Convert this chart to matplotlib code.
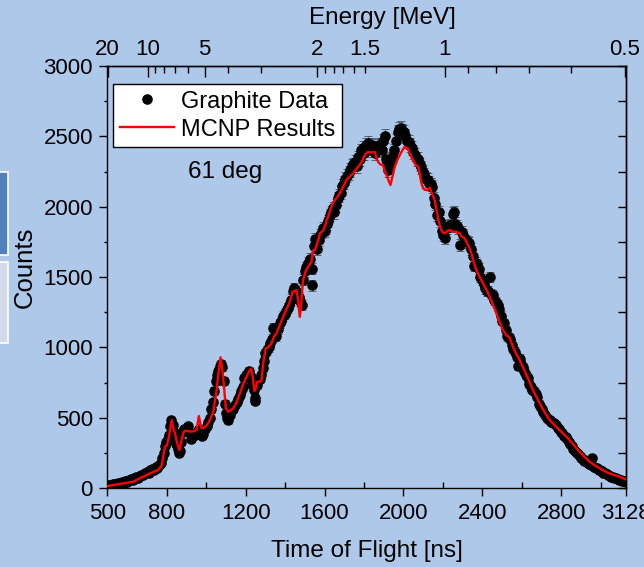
import numpy as np
import matplotlib.pyplot as plt
from matplotlib.patches import Rectangle

plt.rcParams.update({
    "font.family": ["Liberation Sans", "DejaVu Sans"],
    "font.size": 16,
    "axes.linewidth": 1.0,
})

BG = "#aec8ea"

# ---------- measured time-of-flight spectrum (graphite, 61 deg) ----------
tof_data = [
    500, 508, 518, 526, 536, 545, 554, 563, 572, 582, 591, 600, 609, 618, 627, 636,
    645, 654, 663, 672, 681, 690, 699, 708, 717, 726, 735, 744, 753, 762, 771, 778,
    784, 790, 798, 806, 812, 818, 824, 830, 836, 842, 848, 855, 862, 868, 875, 882,
    890, 898, 906, 914, 922, 930, 938, 946, 954, 962, 970, 978, 986, 994, 1002, 1010,
    1018, 1026, 1034, 1041, 1048, 1055, 1062, 1068, 1075, 1082, 1088, 1094, 1100, 1106,
    1112, 1120, 1128, 1136, 1145, 1154, 1162, 1170, 1178, 1186, 1194, 1202, 1210, 1218,
    1226, 1234, 1240, 1246, 1250, 1256, 1264, 1272, 1280, 1288, 1294, 1300, 1308, 1316,
    1324, 1332, 1340, 1348, 1356, 1364, 1372, 1380, 1390, 1398, 1406, 1414, 1422, 1430,
    1438, 1446, 1454, 1462, 1470, 1478, 1485, 1492, 1500, 1508, 1516, 1525, 1534, 1538,
    1546, 1554, 1562, 1570, 1578, 1586, 1594, 1602, 1610, 1618, 1626, 1634, 1642, 1650,
    1658, 1666, 1674, 1682, 1690, 1698, 1706, 1714, 1722, 1730, 1738, 1746, 1754, 1762,
    1770, 1778, 1786, 1794, 1802, 1810, 1818, 1826, 1834, 1842, 1850, 1858, 1866, 1874,
    1882, 1890, 1898, 1906, 1912, 1918, 1924, 1930, 1938, 1946, 1954, 1962, 1970, 1978,
    1986, 1994, 2002, 2010, 2018, 2026, 2034, 2042, 2050, 2058, 2066, 2074, 2082, 2090,
    2098, 2106, 2114, 2122, 2130, 2138, 2146, 2154, 2162, 2170, 2178, 2186, 2194, 2202,
    2210, 2218, 2226, 2234, 2242, 2250, 2256, 2262, 2270, 2278, 2286, 2294, 2302, 2310,
    2318, 2326, 2334, 2342, 2350, 2358, 2366, 2374, 2382, 2390, 2398, 2406, 2414, 2422,
    2430, 2437, 2445, 2453, 2461, 2469, 2477, 2485, 2493, 2501, 2509, 2517, 2525, 2533,
    2541, 2549, 2557, 2565, 2573, 2581, 2589, 2597, 2605, 2613, 2621, 2629, 2637, 2645,
    2653, 2661, 2669, 2677, 2685, 2693, 2701, 2709, 2717, 2725, 2733, 2741, 2749, 2757,
    2765, 2773, 2781, 2789, 2797, 2805, 2813, 2821, 2829, 2837, 2845, 2853, 2861, 2869,
    2877, 2885, 2893, 2901, 2909, 2917, 2925, 2933, 2941, 2949, 2957, 2965, 2973, 2981,
    2989, 2997, 3005, 3013, 3021, 3029, 3037, 3045, 3053, 3061, 3069, 3077, 3085, 3093,
    3101, 3109, 3117, 3125,
]
counts_data = [
    18, 22, 15, 28, 30, 25, 35, 32, 40, 38, 48, 45, 55, 62, 58, 70,
    75, 68, 85, 95, 90, 105, 115, 110, 125, 135, 128, 150, 145, 165, 180, 215,
    250, 300, 330, 345, 380, 440, 480, 450, 400, 350, 310, 280, 250, 265, 330, 400,
    420, 405, 440, 400, 345, 360, 375, 380, 400, 420, 395, 370, 385, 420, 440, 470,
    500, 560, 610, 690, 760, 800, 830, 870, 880, 860, 760, 600, 530, 500,
    480, 520, 550, 560, 590, 610, 630, 660, 690, 720, 780, 800, 815, 830,
    790, 740, 700, 620, 640, 730, 770, 775, 800, 850, 900, 960, 980, 1000,
    1030, 1060, 1140, 1090, 1080, 1130, 1170, 1190, 1220, 1240, 1260, 1280, 1300, 1340,
    1400, 1420, 1400, 1380, 1360, 1330, 1300, 1480, 1540, 1570, 1600, 1630, 1440, 1560,
    1720, 1770, 1700, 1760, 1800, 1820, 1850, 1830, 1880, 1900, 1940, 1960, 1990, 1960,
    2010, 2060, 2080, 2100, 2150, 2170, 2200, 2220, 2240, 2260, 2290, 2300, 2320, 2290,
    2350, 2340, 2400, 2420, 2380, 2440, 2450, 2430, 2400, 2440, 2420, 2380, 2430, 2410,
    2440, 2400, 2470, 2500, 2340, 2300, 2260, 2300, 2330, 2360, 2400, 2470, 2530, 2550,
    2560, 2540, 2530, 2500, 2470, 2460, 2440, 2420, 2390, 2370, 2340, 2340, 2300, 2280,
    2250, 2230, 2200, 2190, 2170, 2160, 2140, 2060, 2020, 1940, 1960, 1900, 1830, 1800,
    1780, 1850, 1860, 1870, 1860, 1950, 1960, 1880, 1860, 1850, 1730, 1820, 1800, 1760,
    1760, 1750, 1740, 1700, 1650, 1580, 1600, 1590, 1560, 1500, 1480, 1450, 1420, 1400,
    1400, 1500, 1380, 1370, 1340, 1320, 1300, 1270, 1220, 1190, 1170, 1120, 1080, 1070,
    1060, 1020, 990, 970, 930, 870, 920, 880, 860, 830, 800, 780, 740, 720,
    700, 690, 670, 650, 600, 580, 560, 540, 520, 500, 490, 480, 470, 465,
    460, 450, 430, 420, 400, 390, 370, 360, 350, 330, 310, 300, 280, 265,
    250, 240, 225, 215, 205, 195, 190, 180, 170, 165, 210, 150, 145, 140,
    130, 125, 120, 110, 105, 100, 90, 85, 80, 75, 72, 68, 62, 60,
    55, 50, 48, 45,
]

# ---------- MCNP simulation ----------
tof_mcnp = [
    500, 560, 631, 680, 715, 757, 775, 783, 791, 800, 808, 816, 825, 833, 842, 853,
    864, 874, 884, 892, 910, 926, 940, 952, 963, 970, 977, 990, 999, 1010, 1019, 1036,
    1045, 1053, 1063, 1073, 1080, 1086, 1093, 1100, 1112, 1125, 1137, 1155, 1171, 1188,
    1205, 1218, 1228, 1237, 1245, 1250, 1258, 1272, 1281, 1289, 1302, 1314, 1331, 1345,
    1357, 1374, 1390, 1405, 1421, 1438, 1450, 1458, 1466, 1471, 1475, 1479, 1483, 1491,
    1504, 1517, 1534, 1542, 1551, 1568, 1576, 1593, 1601, 1610, 1618, 1630, 1643, 1660,
    1677, 1694, 1711, 1728, 1745, 1762, 1778, 1792, 1804, 1820, 1838, 1854, 1863, 1871,
    1883, 1896, 1906, 1917, 1926, 1934, 1945, 1956, 1968, 1981, 1994, 2006, 2015, 2023,
    2035, 2048, 2060, 2074, 2082, 2090, 2099, 2108, 2116, 2125, 2133, 2145, 2158, 2167,
    2175, 2183, 2192, 2200, 2209, 2221, 2234, 2251, 2268, 2285, 2293, 2310, 2319, 2335,
    2344, 2355, 2369, 2386, 2403, 2420, 2437, 2454, 2471, 2487, 2504, 2521, 2537, 2555,
    2572, 2589, 2605, 2623, 2640, 2656, 2673, 2690, 2707, 2724, 2738, 2749, 2770, 2791,
    2816, 2842, 2867, 2892, 2918, 2943, 2968, 2994, 3019, 3044, 3070, 3095, 3120, 3128,
]
counts_mcnp = [
    14, 28, 45, 80, 104, 128, 160, 230, 294, 300, 341, 400, 483, 430, 389, 320,
    270, 330, 389, 407, 405, 400, 405, 417, 512, 460, 424, 430, 441, 460, 483, 542,
    620, 697, 820, 929, 860, 791, 680, 566, 542, 555, 566, 610, 673, 740,
    791, 830, 850, 780, 690, 700, 755, 755, 768, 886, 993, 1000, 1028, 1080,
    1100, 1160, 1217, 1265, 1313, 1395, 1400, 1407, 1336, 1260, 1217, 1280, 1336, 1478,
    1540, 1573, 1608, 1690, 1691, 1760, 1810, 1830, 1857, 1900, 1928, 1980, 2030, 2060,
    2094, 2140, 2189, 2215, 2237, 2270, 2296, 2330, 2367, 2390, 2385, 2390, 2350, 2319,
    2300, 2296, 2250, 2213, 2180, 2154, 2220, 2284, 2330, 2367, 2400, 2426, 2420, 2414,
    2370, 2331, 2300, 2284, 2240, 2170, 2130, 2120, 2118, 2125, 2135, 2090, 2047, 1980,
    1920, 1870, 1834, 1815, 1810, 1825, 1834, 1822, 1822, 1810, 1790, 1775, 1751, 1704,
    1668, 1610, 1549, 1500, 1455, 1410, 1360, 1300, 1242, 1180, 1123, 1087, 1070, 1004,
    950, 910, 860, 803, 750, 697, 650, 602, 560, 519, 490, 471, 440, 412,
    378, 341, 300, 258, 220, 187, 162, 140, 120, 104, 91, 80, 65, 60,
]

# top-axis energies (MeV)
energy_major = [20, 10, 5, 2, 1, 0.5]
energy_minor = [9, 8, 7, 6, 4, 3, 1.9, 1.8, 1.7, 1.6, 1.5, 0.9, 0.8, 0.7, 0.6]

x_ticks = [500, 800, 1200, 1600, 2000, 2400, 2800, 3128]
x_minor = [1000, 1400, 1800, 2200, 2600, 3000]

FLIGHT_PATH = 30.44   # m
T_OFFSET = 8.0        # ns


def tof_from_energy(e_mev):
    # non-relativistic neutron: t = L / v, 72.3 ns*sqrt(MeV)/m
    e = np.asarray(e_mev, dtype=float)
    return T_OFFSET + FLIGHT_PATH * 72.3 / np.sqrt(e)


tof_data = np.array(tof_data)
counts_data = np.array(counts_data)
err = np.sqrt(counts_data)   # counting statistics

fig = plt.figure(figsize=(6.44, 5.67), dpi=100, facecolor=BG)
ax = fig.add_axes([0.1669, 0.1393, 0.8053, 0.7443], facecolor=BG)

# slide pieces peeking in at the left edge
fig.patches.append(Rectangle((-0.01, 0.5503), 0.0224, 0.147, transform=fig.transFigure,
                             facecolor="#4f81bd", edgecolor="white", lw=1.2))
fig.patches.append(Rectangle((-0.01, 0.3945), 0.0224, 0.144, transform=fig.transFigure,
                             facecolor="#d3dbea", edgecolor="white", lw=1.2))

ax.errorbar(tof_data, counts_data, yerr=err, fmt="none", ecolor="#4a505a",
            elinewidth=0.5, capsize=3.0, capthick=0.6, zorder=2)
ax.plot(tof_data, counts_data, "o", color="black", ms=6.6, mec="black",
        label="Graphite Data", zorder=3)
ax.plot(tof_mcnp, counts_mcnp, "-", color="red", lw=1.7, label="MCNP Results", zorder=4)

ax.set_xlim(500, 3128)
ax.set_ylim(0, 3000)
ax.set_xticks(x_ticks)
ax.set_xticks(x_minor, minor=True)
ax.set_yticks(np.arange(0, 3001, 500))
ax.set_yticks(np.arange(250, 3000, 500), minor=True)

ax.tick_params(axis="x", which="major", direction="out", length=6, width=1,
               labelsize=16, pad=5)
ax.tick_params(axis="x", which="minor", direction="in", length=4, width=1)
ax.tick_params(axis="y", which="major", direction="out", length=5.5, width=1,
               labelsize=16, pad=5)
ax.tick_params(axis="y", which="minor", direction="out", length=2.5, width=1)

# right axis: inward ticks, no labels
right = ax.secondary_yaxis("right")
right.set_yticks(np.arange(0, 3001, 500))
right.set_yticks(np.arange(250, 3000, 500), minor=True)
right.tick_params(which="both", direction="in", length=5.5, width=1, labelright=False)

# top axis: neutron energy
top = ax.secondary_xaxis("top")
top.set_xticks(tof_from_energy(energy_major), [f"{e:g}" for e in energy_major])
top.set_xticks(tof_from_energy(energy_minor),
               ["1.5" if e == 1.5 else "" for e in energy_minor], minor=True)
top.tick_params(which="major", direction="in", length=8, width=1, labelsize=16, pad=4)
top.tick_params(which="minor", direction="in", length=5, width=1, labelsize=16, pad=4)
ax.text(0.53, 1.088, "Energy [MeV]", transform=ax.transAxes, fontsize=17.5,
        ha="center", va="bottom")

ax.set_xlabel("Time of Flight [ns]", fontsize=17.5)
ax.xaxis.set_label_coords(0.5, -0.123)
ax.set_ylabel("Counts", fontsize=18.5)
ax.yaxis.set_label_coords(-0.137, 0.524)

ax.text(1095, 2250, "61 deg", fontsize=17.5, ha="center", va="center")

leg = ax.legend(loc="upper left", bbox_to_anchor=(0.0106, 0.957), borderaxespad=0,
                fontsize=17, frameon=True, fancybox=False, framealpha=1,
                edgecolor="black", handlelength=2.3, handletextpad=0.3,
                borderpad=0.28, labelspacing=0.25)
leg.get_frame().set_linewidth(1.0)

fig.savefig("out.png", dpi=100, facecolor=BG)
